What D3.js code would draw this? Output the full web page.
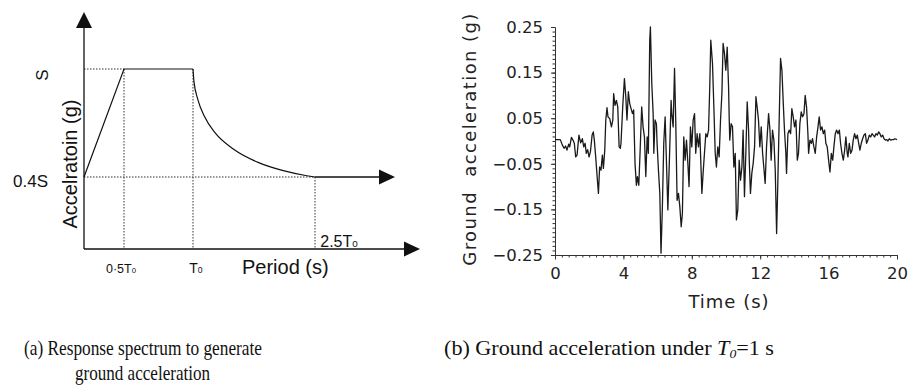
<!DOCTYPE html>
<html>
<head>
<meta charset="utf-8">
<script src="https://cdn.jsdelivr.net/npm/d3@7"></script>
<style>
  html, body { margin: 0; padding: 0; background: #fff; }
  svg { display: block; }
</style>
</head>
<body>
<svg id="fig" width="908" height="389"></svg>
<script>
// (a) design spectrum, in units of T0 (period) and S (acceleration)
const specPeriodTicks = [0, 0.5, 1, 2.5];
const specPeriodLabels = ['', '0\u00b75T', 'T', '2.5T'];
const specLevels = [0.4, 1];
const specLevelLabels = ['0.4S', 'S'];
const specRise = [[0, 0.4], [0.5, 1], [1, 1]];
const specDecay = [[1, 1], [1.012, 0.93], [1.06, 0.83], [1.14, 0.737], [1.27, 0.646],
    [1.5, 0.554], [1.8, 0.481], [2.11, 0.435], [2.4, 0.407], [2.5, 0.4]];

// (b) ground acceleration record, [time (s), acceleration (g)]
const groundMotion = [
    [0, 0.003], [0.31, 0.003], [0.43, -0.009], [0.53, -0.016], [0.62, -0.011], [0.70, -0.020], [0.80, -0.007], [0.86, -0.013],
    [0.96, 0.008], [1.05, 0.002], [1.13, -0.005], [1.21, -0.035], [1.29, -0.031], [1.40, 0.013], [1.50, -0.004], [1.60, 0.005],
    [1.68, -0.013], [1.76, -0.005], [1.83, -0.027], [1.91, -0.019], [1.99, -0.035], [2.07, -0.024], [2.17, 0.013], [2.24, 0.020],
    [2.30, 0.002], [2.38, -0.035], [2.48, -0.086], [2.54, -0.115], [2.61, -0.057], [2.69, -0.064], [2.77, -0.031], [2.83, -0.060],
    [2.91, -0.020], [2.97, 0.046], [3.04, 0.073], [3.10, 0.053], [3.20, 0.049], [3.30, 0.031], [3.38, 0.046], [3.43, 0.104],
    [3.51, 0.078], [3.59, 0.089], [3.67, 0.075], [3.75, -0.013], [3.82, -0.016], [3.86, -0.005], [3.96, 0.075], [4.06, 0.137],
    [4.14, 0.097], [4.21, 0.046], [4.29, 0.108], [4.37, 0.082], [4.45, 0.071], [4.53, 0.060], [4.60, 0.068], [4.68, -0.049],
    [4.76, -0.097], [4.82, -0.078], [4.90, -0.097], [4.98, -0.020], [5.07, 0.075], [5.15, 0.031], [5.23, 0.009], [5.31, -0.078],
    [5.39, 0.009], [5.46, -0.027], [5.54, 0.221], [5.58, 0.250], [5.66, 0.126], [5.74, 0.060], [5.78, -0.027], [5.85, 0.046],
    [5.93, 0.038], [5.97, -0.005], [6.05, -0.064], [6.13, -0.115], [6.20, -0.246], [6.28, -0.144], [6.36, -0.005], [6.44, 0.053],
    [6.52, -0.049], [6.60, -0.151], [6.69, -0.042], [6.79, 0.089], [6.83, 0.060], [6.91, 0.031], [6.99, 0.159], [7.06, 0.046],
    [7.14, -0.130], [7.22, -0.115], [7.30, -0.144], [7.38, -0.188], [7.45, -0.159], [7.53, 0.009], [7.61, -0.042], [7.69, 0.002],
    [7.77, -0.049], [7.84, -0.100], [7.92, 0.031], [8.00, -0.013], [8.08, 0.046], [8.16, 0.060], [8.23, -0.027], [8.31, 0.016],
    [8.39, -0.013], [8.47, 0.016], [8.55, -0.071], [8.59, -0.115], [8.66, -0.071], [8.74, -0.027], [8.82, 0.016], [8.90, 0.009],
    [8.98, 0.024], [9.05, 0.119], [9.11, 0.221], [9.21, 0.170], [9.29, 0.075], [9.37, -0.027], [9.44, -0.057], [9.52, -0.013],
    [9.60, -0.035], [9.68, 0.046], [9.76, 0.104], [9.83, 0.214], [9.91, 0.192], [9.99, 0.155], [10.07, 0.206], [10.15, 0.119],
    [10.19, 0.046], [10.22, 0.002], [10.30, 0.038], [10.38, 0.031], [10.46, -0.057], [10.54, -0.027], [10.61, -0.173], [10.69, -0.151],
    [10.77, -0.042], [10.85, -0.086], [10.93, -0.057], [11.00, 0.024], [11.08, -0.122], [11.16, -0.027], [11.24, 0.086], [11.32, 0.024],
    [11.36, -0.042], [11.43, -0.115], [11.51, -0.071], [11.59, -0.049], [11.67, -0.013], [11.75, 0.097], [11.82, 0.075], [11.90, 0.046],
    [11.98, -0.013], [12.06, 0.031], [12.14, -0.027], [12.21, -0.057], [12.29, -0.093], [12.37, -0.013], [12.49, 0.060], [12.57, 0.024],
    [12.64, -0.042], [12.72, 0.024], [12.80, 0.002], [12.88, -0.064], [12.96, -0.203], [13.03, -0.093], [13.11, 0.046], [13.19, 0.181],
    [13.27, 0.155], [13.35, 0.082], [13.42, 0.024], [13.50, -0.027], [13.54, -0.071], [13.62, 0.016], [13.70, 0.024], [13.78, 0.016],
    [13.85, 0.071], [13.93, 0.053], [14.01, 0.031], [14.09, 0.046], [14.17, -0.042], [14.24, -0.027], [14.32, 0.038], [14.40, 0.064],
    [14.48, 0.053], [14.56, 0.060], [14.63, 0.100], [14.71, 0.075], [14.79, 0.016], [14.83, -0.027], [14.91, 0.002], [14.99, -0.005],
    [15.06, 0.005], [15.14, -0.013], [15.22, -0.027], [15.30, 0.009], [15.38, 0.031], [15.45, 0.053], [15.53, 0.024], [15.61, 0.031],
    [15.69, 0.016], [15.77, 0.024], [15.84, -0.005], [15.92, -0.013], [16.00, -0.042], [16.08, -0.068], [16.16, -0.027], [16.24, -0.042],
    [16.31, -0.013], [16.39, 0.016], [16.47, 0.024], [16.55, 0.016], [16.63, 0.024], [16.70, -0.005], [16.78, -0.027], [16.86, -0.042],
    [16.94, -0.020], [17.01, 0.009], [17.09, -0.027], [17.13, -0.035], [17.21, -0.005], [17.29, -0.027], [17.37, -0.020], [17.44, 0.002],
    [17.52, 0.016], [17.60, 0.005], [17.68, 0.013], [17.76, -0.005], [17.83, -0.020], [17.91, -0.005], [17.99, 0.005], [18.07, 0.013],
    [18.15, 0.016], [18.22, -0.005], [18.30, 0.002], [18.38, 0.013], [18.46, 0.009], [18.54, 0.016], [18.61, 0.013], [18.69, 0.009],
    [18.77, 0.016], [18.85, 0.013], [18.93, 0.020], [19.00, 0.016], [19.08, 0.009], [19.16, 0.013], [19.24, 0.005], [19.32, 0.002],
    [19.40, 0.003], [19.47, 0.000], [19.55, 0.005], [19.63, 0.002], [19.71, 0.003], [19.79, 0.003], [19.88, 0.005], [20.00, 0.003]
];
const timeTicks = [0, 4, 8, 12, 16, 20];
const accelTicks = [-0.25, -0.15, -0.05, 0.05, 0.15, 0.25];

const sans = 'Liberation Sans, Arial, sans-serif';
const plotFont = 'DejaVu Sans, sans-serif';
const serif = 'Liberation Serif, Times New Roman, serif';
const ink = '#111';

const svg = d3.select('#fig');

function arrowHead(g, tipX, tipY, dir, len, half) {
    // dir: 'up' or 'right'
    const pts = dir === 'up'
        ? [[tipX, tipY], [tipX - half, tipY + len], [tipX + half, tipY + len]]
        : [[tipX, tipY], [tipX - len, tipY - half], [tipX - len, tipY + half]];
    g.append('path')
        .attr('d', 'M' + pts.map(p => p.join(',')).join('L') + 'Z')
        .attr('fill', ink);
}

// 1. Left panel: response spectrum
const xs = d3.scaleLinear().domain(specPeriodTicks).range([84, 124, 193, 315]);
const ys = d3.scaleLinear().domain([0, 1]).range([249, 69]);
const left = svg.append('g');

// dotted guides
const plateauStart = specRise[1], plateauEnd = specRise[2], tailStart = specDecay[specDecay.length - 1];
const guides = [
    [[0, plateauStart[1]], plateauStart],
    [plateauStart, [plateauStart[0], 0]],
    [plateauEnd, [plateauEnd[0], 0]],
    [[0, tailStart[1]], tailStart],
    [tailStart, [tailStart[0], 0]]
];
left.selectAll('line.guide')
    .data(guides)
    .enter()
    .append('line')
    .attr('class', 'guide')
    .attr('x1', d => xs(d[0][0])).attr('y1', d => ys(d[0][1]))
    .attr('x2', d => xs(d[1][0])).attr('y2', d => ys(d[1][1]))
    .attr('stroke', '#333')
    .attr('stroke-width', 1)
    .attr('stroke-dasharray', '1.5,1.5');

// axes with arrows
left.append('line')
    .attr('x1', xs(0)).attr('y1', ys(0)).attr('x2', xs(0)).attr('y2', 24)
    .attr('stroke', ink).attr('stroke-width', 1.3);
arrowHead(left, xs(0), 12, 'up', 16, 8);
left.append('line')
    .attr('x1', xs(0)).attr('y1', ys(0)).attr('x2', 408).attr('y2', ys(0))
    .attr('stroke', ink).attr('stroke-width', 1.3);
arrowHead(left, 420, ys(0), 'right', 16, 7.5);

// spectrum curve
const specLine = d3.line().x(d => xs(d[0])).y(d => ys(d[1]));
left.append('path')
    .attr('d', specLine(specRise))
    .attr('fill', 'none').attr('stroke', ink).attr('stroke-width', 1.2);
left.append('path')
    .attr('d', specLine.curve(d3.curveMonotoneX)(specDecay))
    .attr('fill', 'none').attr('stroke', ink).attr('stroke-width', 1.2);
left.append('line')
    .attr('x1', xs(tailStart[0])).attr('y1', ys(tailStart[1]))
    .attr('x2', 383).attr('y2', ys(tailStart[1]))
    .attr('stroke', ink).attr('stroke-width', 1.3);
arrowHead(left, 395, ys(tailStart[1]), 'right', 16, 7.5);

// level labels
left.append('text')
    .attr('x', 48).attr('y', ys(specLevels[0]) + 10)
    .attr('text-anchor', 'end')
    .style('font-family', sans).style('font-size', '17px').style('fill', ink)
    .text(specLevelLabels[0]);
left.append('text')
    .attr('transform', `translate(48,${ys(specLevels[1]) + 6}) rotate(-90)`)
    .attr('text-anchor', 'middle')
    .style('font-family', sans).style('font-size', '17px').style('fill', ink)
    .text(specLevelLabels[1]);

left.append('text')
    .attr('transform', 'translate(77,164) rotate(-90)')
    .attr('text-anchor', 'middle')
    .style('font-family', sans).style('font-size', '20px').style('fill', ink)
    .text('Accelratoin (g)');

// period labels (T with small 0)
const periodLabel = [
    { v: 0.5, x: -3, y: 273, size: 12.5 },
    { v: 1, x: 3, y: 273, size: 14 },
    { v: 2.5, x: 24, y: 247, size: 16 }
];
periodLabel.forEach(p => {
    const i = specPeriodTicks.indexOf(p.v);
    const t = left.append('text')
        .attr('x', xs(p.v) + p.x).attr('y', p.y)
        .attr('text-anchor', 'middle')
        .style('font-family', sans).style('font-size', p.size + 'px').style('fill', ink);
    t.append('tspan').text(specPeriodLabels[i]);
    t.append('tspan').style('font-size', (p.size * 0.62) + 'px').text('0');
});

left.append('text')
    .attr('x', 242).attr('y', 274)
    .style('font-family', sans).style('font-size', '20px').style('fill', ink)
    .text('Period (s)');

// 2. Right panel: ground acceleration
const xr = d3.scaleLinear().domain([0, 20]).range([555, 897]);
const yr = d3.scaleLinear().domain([-0.25, 0.25]).range([255, 27]);
const right = svg.append('g');

const yMinor = d3.range(-25, 26).map(i => i / 100);
const xMinor = d3.range(0, 51).map(i => i * 0.4);

right.append('g')
    .attr('transform', `translate(${xr(0)},0)`)
    .call(d3.axisLeft(yr).tickValues(yMinor).tickSize(2.5).tickSizeOuter(0).tickFormat(''));
right.append('g')
    .attr('transform', `translate(${xr(0)},0)`)
    .call(d3.axisLeft(yr).tickValues(accelTicks).tickSize(4).tickSizeOuter(0).tickPadding(8)
        .tickFormat(d3.format('.2f')));
right.append('g')
    .attr('transform', `translate(0,${yr(-0.25)})`)
    .call(d3.axisBottom(xr).tickValues(xMinor).tickSize(2.5).tickSizeOuter(0).tickFormat(''));
right.append('g')
    .attr('transform', `translate(0,${yr(-0.25)})`)
    .call(d3.axisBottom(xr).tickValues(timeTicks).tickSize(4.5).tickSizeOuter(0).tickPadding(7.5));

right.selectAll('.domain, .tick line').attr('stroke', '#333').attr('stroke-width', 1);
right.selectAll('.tick text')
    .style('font-family', plotFont).style('font-size', '16.5px').style('fill', '#222');

right.append('path')
    .datum(groundMotion)
    .attr('d', d3.line().x(d => xr(d[0])).y(d => yr(d[1])))
    .attr('fill', 'none')
    .attr('stroke', '#1a1a1a')
    .attr('stroke-width', 1.3)
    .attr('stroke-linejoin', 'round');

right.append('text')
    .attr('x', 729).attr('y', 308)
    .attr('text-anchor', 'middle')
    .style('font-family', plotFont).style('font-size', '18px').style('letter-spacing', '1px').style('fill', '#222')
    .text('Time (s)');
right.append('text')
    .attr('transform', 'translate(476,139) rotate(-90)')
    .attr('text-anchor', 'middle')
    .style('font-family', plotFont).style('font-size', '18px').style('letter-spacing', '1.4px').style('fill', '#222')
    .attr('xml:space', 'preserve')
    .text('Ground  acceleration (g)');

// 3. Captions (narrow, tall serif as in the figure)
const cap = svg.append('g').style('font-family', serif).style('font-size', '21px').style('fill', ink);
cap.append('text').attr('x', 24).attr('y', 355)
    .attr('textLength', 238).attr('lengthAdjust', 'spacingAndGlyphs')
    .text('(a) Response spectrum to generate');
cap.append('text').attr('x', 75).attr('y', 380)
    .attr('textLength', 135).attr('lengthAdjust', 'spacingAndGlyphs')
    .text('ground acceleration');
const capB = cap.append('text').attr('x', 444).attr('y', 355)
    .attr('textLength', 330).attr('lengthAdjust', 'spacingAndGlyphs');
capB.append('tspan').text('(b) Ground acceleration under ');
capB.append('tspan').style('font-style', 'italic').text('T');
capB.append('tspan').style('font-style', 'italic').style('font-size', '13px').attr('dy', 3).text('0');
capB.append('tspan').attr('dy', -3).text('=1 s');
</script>
</body>
</html>
